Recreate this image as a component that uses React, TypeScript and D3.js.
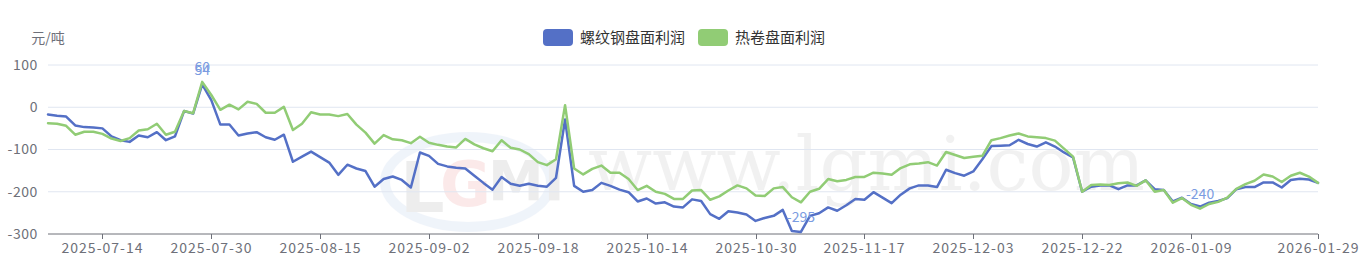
import React from "react";
import * as d3 from "d3";

const dates: string[] = [
  "2025-07-04","2025-07-07","2025-07-08","2025-07-09","2025-07-10","2025-07-11",
  "2025-07-14","2025-07-15","2025-07-16","2025-07-17","2025-07-18",
  "2025-07-21","2025-07-22","2025-07-23","2025-07-24","2025-07-25",
  "2025-07-28","2025-07-29","2025-07-30","2025-07-31","2025-08-01",
  "2025-08-04","2025-08-05","2025-08-06","2025-08-07","2025-08-08",
  "2025-08-11","2025-08-12","2025-08-13","2025-08-14","2025-08-15",
  "2025-08-18","2025-08-19","2025-08-20","2025-08-21","2025-08-22",
  "2025-08-25","2025-08-26","2025-08-27","2025-08-28","2025-08-29",
  "2025-09-01","2025-09-02","2025-09-03","2025-09-04","2025-09-05",
  "2025-09-08","2025-09-09","2025-09-10","2025-09-11","2025-09-12",
  "2025-09-15","2025-09-16","2025-09-17","2025-09-18","2025-09-19",
  "2025-09-22","2025-09-23","2025-09-24","2025-09-25","2025-09-26",
  "2025-09-29","2025-09-30","2025-10-09","2025-10-10",
  "2025-10-13","2025-10-14","2025-10-15","2025-10-16","2025-10-17",
  "2025-10-20","2025-10-21","2025-10-22","2025-10-23","2025-10-24",
  "2025-10-27","2025-10-28","2025-10-29","2025-10-30","2025-10-31",
  "2025-11-03","2025-11-04","2025-11-05","2025-11-06","2025-11-07",
  "2025-11-10","2025-11-11","2025-11-12","2025-11-13","2025-11-14",
  "2025-11-17","2025-11-18","2025-11-19","2025-11-20","2025-11-21",
  "2025-11-24","2025-11-25","2025-11-26","2025-11-27","2025-11-28",
  "2025-12-01","2025-12-02","2025-12-03","2025-12-04","2025-12-05",
  "2025-12-08","2025-12-09","2025-12-11","2025-12-12",
  "2025-12-15","2025-12-16","2025-12-17","2025-12-18","2025-12-19",
  "2025-12-22","2025-12-23","2025-12-24","2025-12-25","2025-12-26",
  "2025-12-29","2025-12-30","2025-12-31",
  "2026-01-05","2026-01-06","2026-01-07","2026-01-08","2026-01-09",
  "2026-01-12","2026-01-13","2026-01-14","2026-01-15","2026-01-16",
  "2026-01-19","2026-01-20","2026-01-21","2026-01-22","2026-01-23",
  "2026-01-26","2026-01-27","2026-01-28","2026-01-29",
];

const rebarProfit: number[] = [
  -17, -20, -22, -43, -47, -48, -50, -69, -78, -82,
  -67, -71, -59, -78, -69, -9, -15, 54, 17, -41,
  -41, -67, -62, -59, -71, -77, -65, -129, -117, -105,
  -118, -131, -160, -136, -145, -151, -188, -170, -164, -172,
  -190, -107, -115, -134, -140, -143, -145, -162, -179, -195,
  -165, -181, -186, -181, -186, -188, -167, -29, -186, -200,
  -196, -179, -186, -195, -201, -223, -216, -228, -225, -235,
  -237, -218, -222, -253, -264, -246, -249, -254, -269, -262,
  -257, -243, -293, -295, -257, -251, -237, -245, -232, -217,
  -219, -201, -214, -227, -207, -192, -185, -185, -189, -148,
  -156, -162, -152, -123, -92, -91, -90, -77, -87, -93,
  -83, -93, -107, -119, -200, -188, -185, -185, -194, -185,
  -185, -173, -194, -196, -223, -214, -229, -235, -226, -222,
  -215, -194, -189, -189, -178, -178, -190, -172, -169, -171,
  -179,
];

const hotCoilProfit: number[] = [
  -38, -39, -44, -65, -58, -58, -63, -74, -80, -73,
  -55, -52, -39, -65, -58, -9, -14, 60, 29, -6,
  6, -5, 13, 8, -13, -13, 1, -54, -39, -12,
  -17, -17, -21, -16, -41, -60, -86, -66, -76, -78,
  -85, -70, -84, -89, -93, -95, -75, -88, -97, -104,
  -78, -96, -100, -111, -130, -137, -123, 5, -145, -159,
  -146, -138, -155, -155, -170, -196, -186, -200, -205, -217,
  -217, -197, -196, -219, -211, -197, -185, -192, -209, -210,
  -192, -189, -213, -225, -200, -193, -170, -175, -172, -165,
  -165, -155, -157, -160, -144, -135, -133, -130, -138, -106,
  -113, -120, -117, -115, -78, -73, -67, -62, -69, -71,
  -73, -79, -98, -117, -200, -184, -183, -184, -180, -178,
  -186, -173, -200, -196, -226, -215, -231, -240, -229, -224,
  -214, -193, -182, -174, -159, -164, -177, -162, -155, -164,
  -179,
];

const tickLabels: string[] = [
  "2025-07-14","2025-07-30","2025-08-15","2025-09-02","2025-09-18","2025-10-14",
  "2025-10-30","2025-11-17","2025-12-03","2025-12-22","2026-01-09","2026-01-29",
];

const yTicks: number[] = [100, 0, -100, -200, -300];

const seriesNames: string[] = ["螺纹钢盘面利润", "热卷盘面利润"];
const seriesColors: string[] = ["#5470c6", "#91cc75"];
const unitLabel = "元/吨";

const W = 1366;
const H = 265;
const FONT = "'Noto Sans CJK SC', 'Noto Sans', sans-serif";

export default function App() {
  const x = d3.scalePoint<string>().domain(dates).range([48, 1318]);
  const y = d3.scaleLinear().domain([-300, 100]).range([234, 65]);
  const line = d3
    .line<number>()
    .x((_, i) => x(dates[i]) as number)
    .y((v) => y(v));
  const series = [rebarProfit, hotCoilProfit];

  const marks: { x: number; y: number; v: number }[] = [];
  series.forEach((s) => {
    const maxI = d3.maxIndex(s);
    const minI = d3.minIndex(s);
    [maxI, minI].forEach((i) =>
      marks.push({ x: x(dates[i]) as number, y: y(s[i]), v: s[i] })
    );
  });

  return (
    <svg
      width={W}
      height={H}
      style={{ position: "absolute", left: 0, top: 0, display: "block" }}
      fontFamily={FONT}
    >
      <rect width={W} height={H} fill="#fff" />
      {/* watermark */}
      <g opacity={0.1}>
        <ellipse cx={468} cy={182} rx={88} ry={50} fill="#6f9ad8" />
        <ellipse cx={468} cy={182} rx={78} ry={40} fill="#ffffff" />
        <text x={400} y={212} fontSize={70} fontWeight="bold" fill="#555" fontFamily="'DejaVu Sans', sans-serif">L</text>
        <text x={440} y={206} fontSize={62} fontWeight="bold" fill="#e03030" fontFamily="'DejaVu Sans', sans-serif">G</text>
        <text x={488} y={200} fontSize={56} fontWeight="bold" fill="#555" fontFamily="'DejaVu Sans', sans-serif">MI</text>
      </g>
      <text x={588} y={190} fontSize={75} fill="#000" opacity={0.05} fontFamily="'DejaVu Serif', 'Liberation Serif', serif">
        www.lgmi.com
      </text>
      {/* grid */}
      {yTicks.slice(0, -1).map((t) => (
        <line key={t} x1={48} x2={1318} y1={y(t)} y2={y(t)} stroke="#e0e6f1" strokeWidth={1} />
      ))}
      {/* y labels */}
      {yTicks.map((t) => (
        <text key={t} x={38} y={y(t)} dy="0.35em" textAnchor="end" fontSize={14} letterSpacing={0.6} fill="#6e7079">
          {t}
        </text>
      ))}
      <text x={48} y={38} dy="0.35em" textAnchor="middle" fontSize={14} fill="#6e7079">
        {unitLabel}
      </text>
      {/* x axis */}
      <line x1={48} x2={1318} y1={234} y2={234} stroke="#6e7079" strokeWidth={1} />
      {tickLabels.map((d) => {
        const px = Math.round(x(d) as number) + 0.5;
        return (
          <g key={d}>
            <line x1={px} x2={px} y1={234} y2={239} stroke="#6e7079" />
            <text x={px} y={248} dy="0.35em" textAnchor="middle" fontSize={14} letterSpacing={1} fill="#6e7079">
              {d}
            </text>
          </g>
        );
      })}
      {/* lines */}
      {series.map((s, k) => (
        <path
          key={k}
          d={line(s) ?? ""}
          fill="none"
          stroke={seriesColors[k]}
          strokeWidth={2.5}
          strokeLinejoin="round"
          strokeLinecap="round"
        />
      ))}
      {/* max/min labels */}
      {marks.map((m, i) => (
        <text key={i} x={m.x} y={m.y - 9.5} textAnchor="middle" fontSize={14} fill="#7b9ce1">
          {m.v}
        </text>
      ))}
      {/* legend */}
      {seriesNames.map((n, k) => {
        const lx = k === 0 ? 543 : 698;
        return (
          <g key={n}>
            <rect x={lx} y={29} width={30} height={17} rx={4} fill={seriesColors[k]} />
            <text x={lx + 37} y={37.5} dy="0.35em" fontSize={15} fill="#333">
              {n}
            </text>
          </g>
        );
      })}
    </svg>
  );
}
